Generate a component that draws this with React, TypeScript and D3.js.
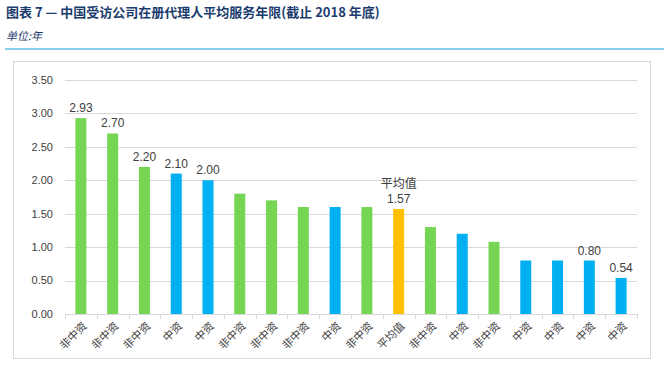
import React, { useEffect, useRef } from "react";
import * as d3 from "d3";

const categories = [
  "非中资", "非中资", "非中资", "中资", "中资", "非中资", "非中资", "非中资", "中资",
  "非中资", "平均值", "非中资", "中资", "非中资", "中资", "中资", "中资", "中资",
];
const values = [2.93, 2.7, 2.2, 2.1, 2.0, 1.8, 1.7, 1.6, 1.6, 1.6, 1.57, 1.3, 1.2, 1.08, 0.8, 0.8, 0.8, 0.54];
// which bars carry a value label
const labelled = [0, 1, 2, 3, 4, 10, 16, 17];
const yTicks = [0, 0.5, 1, 1.5, 2, 2.5, 3, 3.5];

const colorOf = (c: string) => (c === "中资" ? "#00b0f0" : c === "平均值" ? "#ffc000" : "#76d653");
const font = "'Liberation Sans', Arial, 'Noto Sans CJK SC', sans-serif";

export default function App() {
  const ref = useRef<SVGSVGElement | null>(null);

  useEffect(() => {
    if (!ref.current) return;
    const svg = d3.select(ref.current);
    svg.selectAll("*").remove();

    const W = 669, H = 369;
    const left = 65, right = 637, top = 80, bottom = 314;

    // header
    svg.append("text").attr("x", 6).attr("y", 17)
      .attr("font-family", "'Noto Sans CJK SC', sans-serif").attr("font-weight", "bold")
      .attr("font-size", 13).attr("fill", "#1b3c6e")
      .text("图表 7 — 中国受访公司在册代理人平均服务年限(截止 2018 年底)");
    svg.append("text").attr("x", 6).attr("y", 40)
      .attr("font-family", "'Noto Sans CJK SC', sans-serif").attr("font-style", "italic")
      .attr("font-size", 11).attr("fill", "#1b3c6e").text("单位:年");
    svg.append("line").attr("x1", 5).attr("x2", 664).attr("y1", 49).attr("y2", 49)
      .attr("stroke", "#1b9ad6").attr("stroke-width", 1);

    // frame
    svg.append("rect").attr("x", 13.5).attr("y", 61.5).attr("width", 637).attr("height", 297)
      .attr("fill", "none").attr("stroke", "#d9d9d9");

    const x = d3.scaleBand<number>().domain(d3.range(categories.length)).range([left, right]);
    const y = d3.scaleLinear().domain([0, 3.5]).range([bottom, top]);

    const g = svg.append("g");
    g.selectAll("line.grid").data(yTicks.slice(1)).join("line")
      .attr("x1", left).attr("x2", right)
      .attr("y1", (d) => Math.round(y(d)) + 0.5).attr("y2", (d) => Math.round(y(d)) + 0.5)
      .attr("stroke", "#d9d9d9");

    g.selectAll("text.yt").data(yTicks).join("text")
      .attr("x", 53).attr("y", (d) => y(d)).attr("dy", "0.35em")
      .attr("text-anchor", "end").attr("font-family", font).attr("font-size", 11)
      .attr("fill", "#404040").text((d) => d.toFixed(2));

    const bw = 11;
    g.selectAll("rect.bar").data(values).join("rect")
      .attr("x", (_, i) => x(i)! + x.bandwidth() / 2 - bw / 2)
      .attr("y", (d) => y(d)).attr("width", bw).attr("height", (d) => bottom - y(d))
      .attr("fill", (_, i) => colorOf(categories[i]));

    // axis
    g.append("line").attr("x1", left).attr("x2", right).attr("y1", bottom + 0.5).attr("y2", bottom + 0.5)
      .attr("stroke", "#d9d9d9");
    g.selectAll("line.tk").data(d3.range(categories.length + 1)).join("line")
      .attr("x1", (i) => Math.round(left + i * x.step()) + 0.5)
      .attr("x2", (i) => Math.round(left + i * x.step()) + 0.5)
      .attr("y1", bottom).attr("y2", bottom + 5).attr("stroke", "#d9d9d9");

    g.selectAll("text.xl").data(categories).join("text")
      .attr("transform", (_, i) => `translate(${x(i)! + x.bandwidth() / 2 + 4},${bottom + 10}) rotate(-45)`)
      .attr("text-anchor", "end").attr("dy", "0.35em")
      .attr("font-family", "'Noto Sans CJK SC', sans-serif").attr("font-size", 11)
      .attr("fill", "#404040").text((d) => d);

    // value labels
    g.selectAll("text.vl").data(labelled).join("text")
      .attr("x", (i) => x(i)! + x.bandwidth() / 2).attr("y", (i) => y(values[i]) - 6)
      .attr("text-anchor", "middle").attr("font-family", font).attr("font-size", 12)
      .attr("fill", "#404040").text((i) => values[i].toFixed(2));
    const avg = categories.indexOf("平均值");
    g.append("text").attr("x", x(avg)! + x.bandwidth() / 2).attr("y", y(values[avg]) - 21)
      .attr("text-anchor", "middle").attr("font-family", "'Noto Sans CJK SC', sans-serif")
      .attr("font-size", 12).attr("fill", "#404040").text("平均值");
  }, []);

  return (
    <svg ref={ref} width={669} height={369}
      style={{ position: "absolute", left: 0, top: 0, background: "#fff" }} />
  );
}
